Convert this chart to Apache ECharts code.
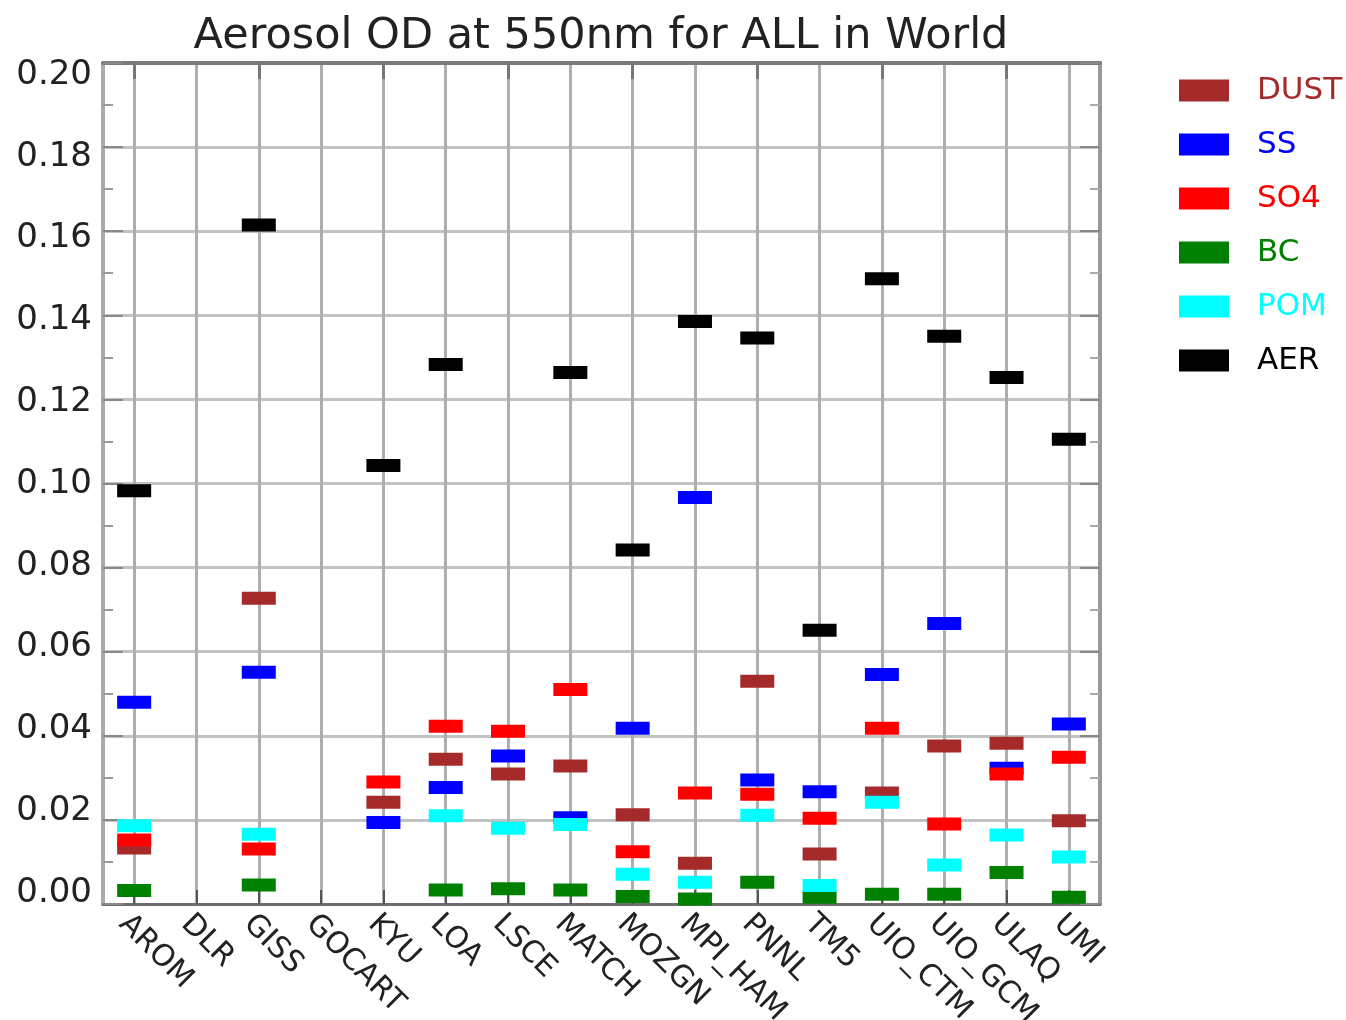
<!DOCTYPE html>
<html>
<head>
<meta charset="utf-8">
<script src="https://cdn.jsdelivr.net/npm/echarts@6/dist/echarts.min.js"></script>
<style>html,body{margin:0;padding:0;background:#fff}#c{width:1346px;height:1020px}</style>
</head>
<body>
<div id="c"></div>
<script>
const categories = ['AROM','DLR','GISS','GOCART','KYU','LOA','LSCE','MATCH','MOZGN','MPI_HAM','PNNL','TM5','UIO_CTM','UIO_GCM','ULAQ','UMI'];
const yTicks = [0, 0.02, 0.04, 0.06, 0.08, 0.10, 0.12, 0.14, 0.16, 0.18, 0.20];
const dust = [0.0133, '-', 0.0727, '-', 0.0242, 0.0344, 0.0309, 0.0328, 0.0212, 0.0097, 0.0530, 0.0119, 0.0264, 0.0376, 0.0382, 0.0198];
const ss   = [0.0480, '-', 0.0551, '-', 0.0194, 0.0277, 0.0352, 0.0205, 0.0418, 0.0967, 0.0295, 0.0267, 0.0546, 0.0667, 0.0323, 0.0428];
const so4  = [0.0152, '-', 0.0131, '-', 0.0290, 0.0423, 0.0411, 0.0510, 0.0124, 0.0264, 0.0261, 0.0204, 0.0418, 0.0190, 0.0309, 0.0349];
const bc   = [0.0032, '-', 0.0045, '-', '-', 0.0033, 0.0036, 0.0033, 0.0018, 0.0012, 0.0052, 0.0016, 0.0023, 0.0023, 0.0075, 0.0016];
const pom  = [0.0186, '-', 0.0166, '-', '-', 0.0210, 0.0180, 0.0189, 0.0071, 0.0052, 0.0211, 0.0044, 0.0242, 0.0093, 0.0164, 0.0112];
const aer  = [0.0983, '-', 0.1615, '-', 0.1043, 0.1283, '-', 0.1264, 0.0842, 0.1385, 0.1346, 0.0651, 0.1487, 0.1350, 0.1252, 0.1105];

const seriesNames = ['DUST', 'SS', 'SO4', 'BC', 'POM', 'AER'];
const seriesData = [dust, ss, so4, bc, pom, aer];
const colors = ['#a52a2a', '#0000ff', '#ff0000', '#008000', '#00ffff', '#000000'];

const FONT = 'DejaVu Sans';
const chart = echarts.init(document.getElementById('c'), null, {renderer: 'canvas'});

const series = seriesNames.map((n, i) => ({
  name: n,
  type: 'scatter',
  xAxisIndex: 0,
  yAxisIndex: 0,
  data: seriesData[i],
  symbol: 'rect',
  symbolSize: [34, 13],
  itemStyle: {color: colors[i], opacity: 1},
  emphasis: {disabled: true},
  z: 3 + i
}));

chart.setOption({
  animation: false,
  backgroundColor: '#ffffff',
  color: colors,
  title: {
    text: 'Aerosol OD at 550nm for ALL in World',
    left: 596,
    top: 10,
    textAlign: 'center',
    textStyle: {fontFamily: FONT, fontSize: 43, fontWeight: 'normal', color: '#222'}
  },
  grid: [
    {left: 103, right: 246, top: 63, bottom: 116, containLabel: false, outerBoundsMode: 'none'},
    {left: 103, right: 246, top: 75, bottom: 127, containLabel: false, outerBoundsMode: 'none'}
  ],
  legend: {
    orient: 'vertical',
    left: 1179,
    top: 75,
    padding: 0,
    itemWidth: 50,
    itemHeight: 22,
    itemGap: 23,
    icon: 'rect',
    selectedMode: false,
    textStyle: {fontFamily: FONT, fontSize: 31, padding: [0, 0, 0, 23]},
    data: seriesNames.map((n, i) => ({name: n, textStyle: {color: colors[i]}}))
  },
  xAxis: [{
    type: 'category',
    gridIndex: 0,
    data: categories,
    position: 'bottom',
    boundaryGap: true,
    axisLine: {show: true, onZero: false, lineStyle: {color: '#6e6e6e', width: 3}},
    axisTick: {show: true, inside: true, alignWithLabel: true, length: 14, lineStyle: {color: '#555', width: 2}},
    splitLine: {show: true, alignWithLabel: true, lineStyle: {color: '#aeaeae', width: 3}},
    axisLabel: {
      rotate: -45,
      margin: 5,
      interval: 0,
      verticalAlign: 'top',
      fontFamily: FONT,
      fontSize: 30,
      color: '#222'
    }
  }, {
    type: 'category',
    gridIndex: 0,
    data: categories,
    position: 'top',
    boundaryGap: true,
    axisLine: {show: true, onZero: false, lineStyle: {color: '#7a7a7a', width: 4}},
    axisTick: {show: true, inside: true, alignWithLabel: true, length: 16, lineStyle: {color: '#777', width: 3}},
    axisLabel: {show: false},
    splitLine: {show: false}
  }, {
    type: 'category',
    gridIndex: 1,
    data: categories,
    show: false
  }],
  yAxis: [{
    type: 'value',
    gridIndex: 0,
    min: 0,
    max: 0.2,
    interval: 0.02,
    position: 'left',
    axisLine: {show: true, onZero: false, lineStyle: {color: '#aaaaaa', width: 4}},
    axisTick: {show: true, inside: true, length: 20, lineStyle: {color: '#888', width: 2}},
    minorTick: {show: true, splitNumber: 2, length: 10, lineStyle: {color: '#999', width: 2}},
    splitLine: {show: true, lineStyle: {color: '#c2c2c2', width: 3}},
    axisLabel: {show: false}
  }, {
    type: 'value',
    gridIndex: 0,
    min: 0,
    max: 0.2,
    interval: 0.02,
    position: 'right',
    axisLine: {show: true, onZero: false, lineStyle: {color: '#999999', width: 4}},
    axisTick: {show: true, inside: true, length: 20, lineStyle: {color: '#888', width: 2}},
    minorTick: {show: true, splitNumber: 2, length: 10, lineStyle: {color: '#aaa', width: 2}},
    splitLine: {show: false},
    axisLabel: {show: false}
  }, {
    type: 'value',
    gridIndex: 1,
    min: yTicks[0],
    max: yTicks[yTicks.length - 1],
    interval: 0.02,
    position: 'left',
    axisLine: {show: false},
    axisTick: {show: false},
    splitLine: {show: false},
    axisLabel: {
      margin: 11,
      fontFamily: FONT,
      fontSize: 34,
      color: '#222',
      formatter: v => v.toFixed(2)
    }
  }],
  series: series
});
</script>
</body>
</html>
